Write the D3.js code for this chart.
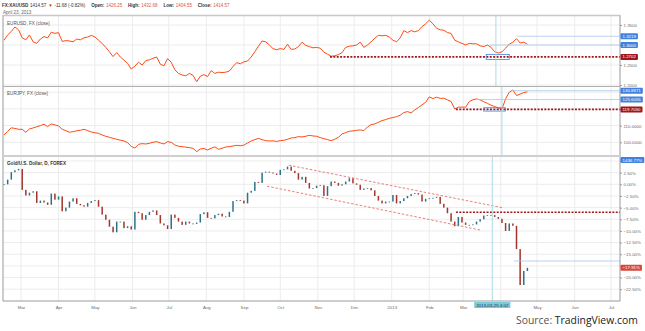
<!DOCTYPE html>
<html><head><meta charset="utf-8">
<script src="https://cdnjs.cloudflare.com/ajax/libs/d3/7.8.5/d3.min.js"></script>
<style>
html,body{margin:0;padding:0;background:#fff;}
svg{display:block;font-family:"Liberation Sans",Arial,sans-serif;}
</style></head><body>
<svg id="chart" width="645" height="331"></svg>
<script>
// ---- data: one reading every 3 calendar days, ending on the last session ----
const lastDate = "2013-04-23";
const stepDays = 3;

const eurusd = [1.312,1.325,1.334,1.345,1.338,1.318,1.313,1.325,1.308,1.304,
 1.315,1.321,1.318,1.332,1.329,1.331,1.309,1.311,1.310,1.308,
 1.315,1.313,1.318,1.320,1.324,1.320,1.312,1.304,1.294,1.283,
 1.271,1.281,1.270,1.262,1.254,1.240,1.247,1.257,1.250,1.261,
 1.263,1.267,1.270,1.252,1.248,1.266,1.257,1.238,1.229,1.225,
 1.223,1.229,1.224,1.208,1.222,1.226,1.221,1.236,1.229,1.232,
 1.231,1.232,1.235,1.246,1.256,1.253,1.258,1.260,1.270,1.283,
 1.297,1.310,1.308,1.300,1.291,1.288,1.291,1.289,1.302,1.289,
 1.290,1.296,1.307,1.299,1.296,1.293,1.294,1.292,1.282,1.277,
 1.272,1.273,1.276,1.281,1.294,1.297,1.298,1.300,1.307,1.294,
 1.300,1.308,1.317,1.324,1.323,1.324,1.320,1.312,1.308,1.318,
 1.336,1.331,1.336,1.333,1.336,1.346,1.353,1.362,1.353,1.342,
 1.338,1.337,1.331,1.329,1.312,1.308,1.304,1.300,1.304,1.303,
 1.303,1.298,1.296,1.300,1.294,1.283,1.280,1.283,1.292,1.302,
 1.307,1.316,1.305,1.307,1.302];

const eurjpy = [104.4,106.5,108.7,108.3,107.8,107.8,106.0,108.0,108.6,109.3,
 110.0,110.8,109.4,111.0,110.4,109.8,107.8,107.0,106.0,106.4,
 106.9,107.2,107.8,107.0,106.2,105.7,105.4,104.4,103.6,103.0,
 102.4,101.8,101.3,100.8,99.8,97.5,96.6,98.8,99.2,99.0,
 99.4,100.0,100.4,99.6,99.0,100.4,100.0,98.4,97.6,97.4,
 97.1,96.8,96.4,94.4,96.0,96.3,95.4,96.4,97.3,95.8,
 96.4,97.2,97.4,97.8,98.2,97.9,98.3,99.6,100.8,101.6,
 102.4,101.6,101.0,100.8,100.9,100.5,101.0,101.2,101.8,102.6,
 102.8,103.4,103.2,103.6,104.2,103.8,103.6,102.8,102.2,101.6,
 101.0,101.8,103.0,105.0,105.8,106.6,106.8,107.2,107.4,107.0,
 109.2,110.6,111.0,112.0,113.0,113.6,114.4,114.8,115.4,116.2,
 117.8,118.4,117.6,119.4,120.8,122.4,124.0,127.2,126.2,127.0,
 126.3,126.4,125.4,124.4,120.0,121.0,121.1,121.0,124.4,125.5,
 126.0,125.4,124.3,123.3,122.2,121.4,120.6,120.0,126.0,130.0,
 131.3,128.0,128.9,129.8,130.2];

// gold close, % change from the first session shown
const goldPct = [0.0,1.0,2.6,3.0,3.3,-1.2,-2.4,-1.8,-1.5,-4.0,
 -3.5,-3.9,-4.4,-2.0,-3.3,-2.6,-5.8,-5.0,-3.7,-3.0,
 -4.2,-4.5,-4.8,-4.0,-3.6,-3.4,-4.8,-6.5,-7.6,-9.1,
 -10.3,-8.0,-8.0,-9.4,-9.0,-9.7,-5.9,-6.2,-7.6,-6.6,
 -5.9,-5.6,-6.6,-8.4,-8.8,-9.6,-6.5,-7.2,-8.0,-8.7,
 -8.0,-8.4,-8.5,-8.2,-6.4,-6.0,-7.2,-7.3,-6.6,-6.3,
 -6.9,-7.0,-5.9,-3.6,-3.4,-3.5,-4.1,-1.8,-1.4,0.5,
 0.3,2.5,2.7,2.5,2.3,2.0,3.1,3.2,3.8,2.9,
 2.4,1.0,1.6,0.3,-0.9,-0.8,-0.3,-0.2,-2.5,-0.4,
 0.6,0.3,-0.3,0.0,0.6,1.3,0.2,-0.1,-1.2,-0.9,
 -0.8,-1.3,-2.5,-3.5,-4.1,-3.7,-3.7,-2.3,-4.1,-3.6,
 -3.0,-2.5,-2.1,-1.9,-2.2,-3.7,-3.1,-3.0,-2.9,-2.7,
 -4.2,-5.0,-6.2,-8.0,-9.0,-7.0,-8.2,-8.7,-8.7,-8.6,
 -8.0,-7.5,-6.7,-6.6,-6.6,-7.0,-7.4,-8.3,-10.0,-8.4,
 -8.9,-13.9,-21.6,-18.6,-17.91];

// axes
const monthDates = ["2012-03-01","2012-04-01","2012-05-01","2012-06-01","2012-07-01","2012-08-01",
 "2012-09-01","2012-10-01","2012-11-01","2012-12-01","2013-01-01","2013-02-01","2013-03-01",
 "2013-04-01","2013-05-01","2013-06-01","2013-07-01"];
const monthLabels = ["Mar","Apr","May","Jun","Jul","Aug","Sep","Oct","Nov","Dec","2013","Feb","Mar","","May","Jun","Jul"];
const eurusdTicks = [1.35,1.30,1.25,1.20];
const eurjpyTicks = [130,120,110,100];
const goldTicks = [5,2.5,0,-2.5,-5,-7.5,-10,-12.5,-15,-17.5,-20,-22.5];
// tick labels that sit under a price badge
const eurusdHidden = [1.30];
const eurjpyHidden = [130,120];
const goldHidden = [5,-17.5];

// drawn levels and annotations
const eurusdLevels = [{from:"2013-04-14", v:1.3219, label:"1.3219"},{from:"2013-03-23", v:1.3000, label:"1.3000"}];
const eurusdSupport = {from:"2012-11-11", v:1.2702, label:"1.2702"};
const eurusdBox = {from:"2013-03-20", to:"2013-04-08", hi:1.2765, lo:1.2640};
const eurjpyLevels = [{from:"2013-04-10", v:130.8871, label:"130.8871"},{from:"2013-03-12", v:125.6055, label:"125.6055"}];
const eurjpySupport = {from:"2013-02-23", v:119.7030, label:"119.7030"};
const eurjpyBox = {from:"2013-03-18", to:"2013-04-05", hi:120.7, lo:118.7};
const goldSupport = {from:"2013-02-23", v:-6.0};
const goldLevel = {from:"2013-04-12", v:-16.45};
const goldChannel = [
  [{d:"2012-10-08", v:4.1},{d:"2013-04-02", v:-5.0}],
  [{d:"2012-09-20", v:-0.4},{d:"2013-03-15", v:-9.8}]
];
const markerDates = ["2013-03-28","2013-04-02","2013-03-25"];
const markerLabel = "2013-03-25 4:02";
const topBadge = "1436.77%";

// ---- layout ----
const svg = d3.select("#chart");
const parse = d3.utcParse("%Y-%m-%d");
const L = 3, R = 620;
const panels = [{top:16,bottom:86},{top:87,bottom:155},{top:157,bottom:301}];
const x = d3.scaleUtc().domain([parse("2012-03-01"), parse("2013-07-01")]).range([21, 611]);
const N = goldPct.length;
const end = parse(lastDate);
const dates = d3.range(N).map(i => d3.utcDay.offset(end, -stepDays*(N-1-i)));

const yUsd = d3.scaleLinear().domain([1.35, 1.25]).range([25, 65]);
const yJpy = d3.scaleLinear().domain([110, 100]).range([125.6, 142.3]);
const yGold = d3.scaleLinear().domain([0, -22.5]).range([184.3, 289.2]);

const defs = svg.append("defs");
panels.forEach((p,i) => {
  defs.append("clipPath").attr("id","clip"+i).append("rect")
    .attr("x",L).attr("y",p.top).attr("width",R-L).attr("height",p.bottom-p.top);
});

const GRID = "#ececec", AXIS = "#9a9a9a", TXT = "#6b6b6b";
const LINE = "#ff4a14", SUPPORT = "#a0161a", BLUE = "#3f82e0", PALE = "#a9c6ea";

// vertical month grid in every panel
panels.forEach(p => {
  svg.append("g").selectAll("line").data(monthDates).join("line")
    .attr("x1", d => x(parse(d))).attr("x2", d => x(parse(d)))
    .attr("y1", p.top).attr("y2", p.bottom)
    .attr("stroke", GRID).attr("stroke-width", 1);
});

function hgrid(scale, ticks) {
  svg.append("g").selectAll("line").data(ticks).join("line")
    .attr("x1", L).attr("x2", R)
    .attr("y1", d => scale(d)).attr("y2", d => scale(d))
    .attr("stroke", GRID).attr("stroke-width", 1);
}
hgrid(yUsd, eurusdTicks);
hgrid(yJpy, eurjpyTicks);
hgrid(yGold, goldTicks);

// right axes
function rightAxis(scale, ticks, hidden, fmt) {
  const g = svg.append("g").attr("transform", `translate(${R},0)`)
    .call(d3.axisRight(scale).tickValues(ticks).tickSize(2).tickPadding(1.5)
      .tickFormat(d => hidden.includes(d) ? "" : fmt(d)));
  g.select(".domain").remove();
  g.selectAll("line").attr("stroke", AXIS);
  g.selectAll("text").attr("fill", TXT).attr("font-size", 4.4).attr("font-family", null);
}
rightAxis(yUsd, eurusdTicks, eurusdHidden, d3.format(".4f"));
rightAxis(yJpy, eurjpyTicks, eurjpyHidden, d3.format(".4f"));
rightAxis(yGold, goldTicks, goldHidden, d => d3.format(".2f")(d) + "%");

// bottom time axis
const xa = svg.append("g").attr("transform", `translate(0,${panels[2].bottom})`)
  .call(d3.axisBottom(x).tickValues(monthDates.map(parse)).tickSize(0).tickPadding(5)
    .tickFormat((d,i) => monthLabels[i]));
xa.select(".domain").remove();
xa.selectAll("text").attr("fill", TXT).attr("font-size", 4.4).attr("font-family", null);

// series lines
const lineUsd = d3.line().x((d,i) => x(dates[i])).y(d => yUsd(d));
const lineJpy = d3.line().x((d,i) => x(dates[i])).y(d => yJpy(d));
svg.append("path").datum(eurusd).attr("d", lineUsd).attr("fill","none")
  .attr("stroke", LINE).attr("stroke-width", 1).attr("clip-path","url(#clip0)");
svg.append("path").datum(eurjpy).attr("d", lineJpy).attr("fill","none")
  .attr("stroke", LINE).attr("stroke-width", 1).attr("clip-path","url(#clip1)");

// gold candles: each session opens at the prior close
const candles = goldPct.map((c,i) => ({d: dates[i], o: i ? goldPct[i-1] : c, c}));
const cg = svg.append("g").attr("clip-path","url(#clip2)");
cg.selectAll("rect").data(candles).join("rect")
  .attr("x", d => x(d.d) - 0.75).attr("width", 1.5)
  .attr("y", d => yGold(Math.max(d.o, d.c)))
  .attr("height", d => Math.max(0.8, Math.abs(yGold(d.o) - yGold(d.c))))
  .attr("fill", d => d.c >= d.o ? "#2b7385" : "#a2352c");

// annotation helpers
function hline(scale, lvl, color, width, dash, clip) {
  svg.append("line").attr("x1", x(parse(lvl.from))).attr("x2", R)
    .attr("y1", scale(lvl.v)).attr("y2", scale(lvl.v))
    .attr("stroke", color).attr("stroke-width", width)
    .attr("stroke-dasharray", dash).attr("clip-path", clip);
}
function box(scale, b, clip) {
  svg.append("rect").attr("x", x(parse(b.from))).attr("y", scale(b.hi))
    .attr("width", x(parse(b.to)) - x(parse(b.from))).attr("height", scale(b.lo) - scale(b.hi))
    .attr("fill","none").attr("stroke", BLUE).attr("stroke-width", 0.8).attr("clip-path", clip);
}
function badge(y, text, fill) {
  const g = svg.append("g");
  const t = g.append("text").attr("x", R + 2.5).attr("y", y).attr("dy","0.35em")
    .attr("font-size", 4.4).attr("fill","#fff").text(text);
  const w = t.node().getComputedTextLength();
  g.insert("rect","text").attr("x", R + 0.5).attr("y", y - 3).attr("width", w + 4)
    .attr("height", 6).attr("rx", 1).attr("fill", fill);
}

// EURUSD drawings
eurusdLevels.forEach(l => hline(yUsd, l, PALE, 0.8, null, "url(#clip0)"));
hline(yUsd, eurusdSupport, SUPPORT, 1.6, "2,1.4", "url(#clip0)");
box(yUsd, eurusdBox, "url(#clip0)");
// EURJPY drawings
eurjpyLevels.forEach(l => hline(yJpy, l, PALE, 0.8, null, "url(#clip1)"));
hline(yJpy, eurjpySupport, SUPPORT, 1.6, "2,1.4", "url(#clip1)");
box(yJpy, eurjpyBox, "url(#clip1)");
// Gold drawings
hline(yGold, goldSupport, SUPPORT, 1.6, "2,1.4", "url(#clip2)");
hline(yGold, goldLevel, PALE, 0.8, null, "url(#clip2)");
goldChannel.forEach(seg => {
  svg.append("line")
    .attr("x1", x(parse(seg[0].d))).attr("y1", yGold(seg[0].v))
    .attr("x2", x(parse(seg[1].d))).attr("y2", yGold(seg[1].v))
    .attr("stroke", "#e8706a").attr("stroke-width", 0.9).attr("stroke-dasharray","2.5,1.8");
});

// vertical date markers
panels.forEach((p,i) => {
  const xv = x(parse(markerDates[i]));
  svg.append("line").attr("x1", xv).attr("x2", xv).attr("y1", p.top).attr("y2", p.bottom)
    .attr("stroke", "#a9dbe8").attr("stroke-width", 1);
});

// frame
svg.append("line").attr("x1", L).attr("x2", L).attr("y1", 15).attr("y2", panels[2].bottom).attr("stroke", AXIS).attr("stroke-width", 1);
svg.append("line").attr("x1", R).attr("x2", R).attr("y1", 15).attr("y2", panels[2].bottom).attr("stroke", AXIS).attr("stroke-width", 1);
svg.append("line").attr("x1", L).attr("x2", R).attr("y1", 15.5).attr("y2", 15.5).attr("stroke", "#c8c8c8").attr("stroke-width", 1.5);
svg.append("line").attr("x1", L).attr("x2", R).attr("y1", 86.5).attr("y2", 86.5).attr("stroke", "#b0b0b0").attr("stroke-width", 1);
svg.append("line").attr("x1", L).attr("x2", R).attr("y1", 156).attr("y2", 156).attr("stroke", "#cfcfcf").attr("stroke-width", 2);
svg.append("line").attr("x1", L).attr("x2", R).attr("y1", panels[2].bottom).attr("y2", panels[2].bottom).attr("stroke", AXIS).attr("stroke-width", 1);

// price badges
eurusdLevels.forEach(l => badge(yUsd(l.v), l.label, BLUE));
badge(yUsd(eurusdSupport.v), eurusdSupport.label, SUPPORT);
eurjpyLevels.forEach(l => badge(yJpy(l.v), l.label, BLUE));
badge(yJpy(eurjpySupport.v), eurjpySupport.label, SUPPORT);
badge(160, topBadge, BLUE);
badge(yGold(goldPct[N-1]), d3.format(".2f")(goldPct[N-1]) + "%", "#d9473b");

// marker date badge on the time axis
{
  const xv = x(parse(markerDates[2]));
  const g = svg.append("g");
  const t = g.append("text").attr("x", xv).attr("y", 305).attr("dy","0.35em")
    .attr("text-anchor","middle").attr("font-size", 4.4).attr("fill","#234").text(markerLabel);
  const w = t.node().getComputedTextLength();
  g.insert("rect","text").attr("x", xv - w/2 - 2).attr("y", 302).attr("width", w + 4)
    .attr("height", 6).attr("fill", "#7ccbdc");
}

// panel titles
const titles = [["EURUSD, FX (close)", 24.5], ["EURJPY, FX (close)", 94.5], ["Gold/U.S. Dollar, D, FOREX", 164.5]];
titles.forEach(([t,y],i) => svg.append("text").attr("x", 7).attr("y", y)
  .attr("font-size", 4.6).attr("fill", i === 2 ? "#333" : "#555")
  .attr("font-weight", i === 2 ? "bold" : "normal").text(t));

// header, laid out left to right
const header = [
  {t:"FX:XAUUSD", c:"#333", b:true},
  {t:"1414.57", c:"#333"},
  {t:"▼", c:"#c0392b"},
  {t:"-11.68 (-0.82%)", c:"#333"},
  {t:"Open:", c:"#333", b:true, gap:4},
  {t:"1426.25", c:"#e0533d"},
  {t:"High:", c:"#333", b:true, gap:4},
  {t:"1432.68", c:"#e0533d"},
  {t:"Low:", c:"#333", b:true, gap:4},
  {t:"1404.55", c:"#e0533d"},
  {t:"Close:", c:"#333", b:true, gap:4},
  {t:"1414.57", c:"#e0533d"}
];
{
  let hx = 2;
  header.forEach(h => {
    hx += (h.gap || 0);
    const t = svg.append("text").attr("x", hx).attr("y", 7)
      .attr("font-size", 4.5).attr("fill", h.c).attr("font-weight", h.b ? "bold" : "normal").text(h.t);
    hx += t.node().getComputedTextLength() + 1.8;
  });
}
svg.append("text").attr("x", 3).attr("y", 13.5).attr("font-size", 4.6).attr("fill", "#666").text("April 23, 2013");

// source line
{
  const t = svg.append("text").attr("x", 516).attr("y", 324)
    .attr("font-family", "'Open Sans','DejaVu Sans',sans-serif").attr("font-size", 11);
  t.append("tspan").attr("fill", "#555").text("Source: ");
  t.append("tspan").attr("fill", "#222").text("TradingView.com");
  const w = t.node().getComputedTextLength();
  t.attr("font-size", 11 * 122 / w);
}
</script>
</body></html>
